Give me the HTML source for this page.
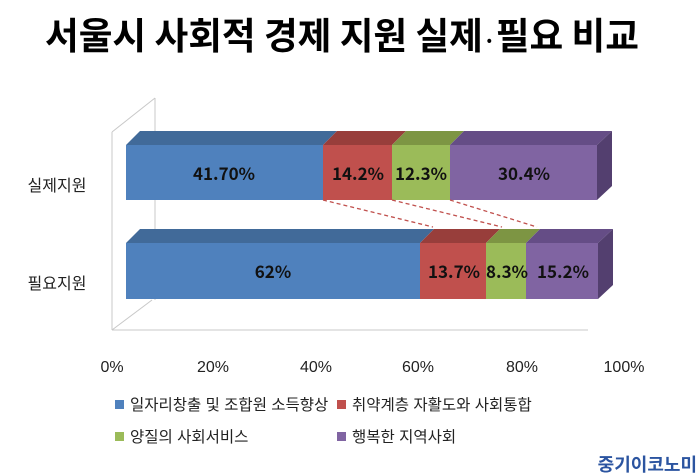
<!DOCTYPE html>
<html><head><meta charset="utf-8"><style>
html,body{margin:0;padding:0;background:#fff;}
svg{display:block;font-family:"Liberation Sans","Noto Sans CJK KR",sans-serif;}
</style></head><body>
<svg width="700" height="474" viewBox="0 0 700 474" xmlns="http://www.w3.org/2000/svg">
<rect width="700" height="474" fill="#fff"/>
<text x="342" y="49" font-size="37" font-weight="bold" text-anchor="middle" textLength="594" lengthAdjust="spacingAndGlyphs" font-family="Noto Sans CJK KR, sans-serif">서울시 사회적 경제 지원 실제<tspan font-size="22">·</tspan>필요 비교</text>
<g stroke="#c8c8c8" stroke-width="1" fill="none">
<line x1="112" y1="132" x2="112" y2="330"/>
<line x1="155" y1="98" x2="155" y2="300"/>
<line x1="112" y1="132" x2="155" y2="98"/>
<line x1="112" y1="330" x2="152" y2="300"/>
<line x1="112" y1="330" x2="588" y2="330"/>
</g>
<g>
<polygon points="126,145 140,131 337,131 323,145" fill="#416a99"/>
<polygon points="323,145 337,131 406,131 392,145" fill="#983e3b"/>
<polygon points="392,145 406,131 464,131 450,145" fill="#7d9543"/>
<polygon points="450,145 464,131 612,131 597,145" fill="#654d86"/>
<polygon points="597,145 612,131 612,186 597,200" fill="#533f6f"/>
<rect x="126" y="145" width="197" height="55" fill="#4f81bd"/>
<rect x="323" y="145" width="69" height="55" fill="#c0504d"/>
<rect x="392" y="145" width="58" height="55" fill="#9bbb59"/>
<rect x="450" y="145" width="147" height="55" fill="#8064a2"/>
</g>
<g>
<polygon points="126,243 140,229 434,229 420,243" fill="#416a99"/>
<polygon points="420,243 434,229 500,229 486,243" fill="#983e3b"/>
<polygon points="486,243 500,229 540,229 526,243" fill="#7d9543"/>
<polygon points="526,243 540,229 613,229 598,243" fill="#654d86"/>
<polygon points="598,243 613,229 613,285 598,299" fill="#533f6f"/>
<rect x="126" y="243" width="294" height="56" fill="#4f81bd"/>
<rect x="420" y="243" width="66" height="56" fill="#c0504d"/>
<rect x="486" y="243" width="40" height="56" fill="#9bbb59"/>
<rect x="526" y="243" width="72" height="56" fill="#8064a2"/>
</g>
<g stroke="#c0504d" stroke-width="1.3" stroke-dasharray="4,3">
<line x1="323" y1="200" x2="433" y2="227"/>
<line x1="392" y1="200" x2="502" y2="227"/>
<line x1="450" y1="200" x2="537" y2="227"/>
</g>
<g font-size="17" font-weight="bold" text-anchor="middle" fill="#111" font-family="Noto Sans CJK KR, sans-serif">
<text x="224" y="180">41.70%</text>
<text x="358" y="180">14.2%</text>
<text x="421" y="180">12.3%</text>
<text x="524" y="180">30.4%</text>
<text x="273" y="278">62%</text>
<text x="454" y="278">13.7%</text>
<text x="507" y="278">8.3%</text>
<text x="563" y="278">15.2%</text>
</g>
<g font-size="16" fill="#222" text-anchor="middle">
<text x="57" y="191">실제지원</text>
<text x="57" y="289">필요지원</text>
<text x="112" y="372">0%</text>
<text x="213" y="372">20%</text>
<text x="316" y="372">40%</text>
<text x="418" y="372">60%</text>
<text x="522" y="372">80%</text>
<text x="624" y="372">100%</text>
</g>
<g font-size="15.5" fill="#222">
<rect x="115" y="400" width="9" height="9" fill="#4f81bd"/>
<text x="130" y="410">일자리창출 및 조합원 소득향상</text>
<rect x="337" y="400" width="9" height="9" fill="#c0504d"/>
<text x="352" y="410">취약계층 자활도와 사회통합</text>
<rect x="115" y="432" width="9" height="9" fill="#9bbb59"/>
<text x="130" y="442">양질의 사회서비스</text>
<rect x="337" y="432" width="9" height="9" fill="#8064a2"/>
<text x="352" y="442">행복한 지역사회</text>
</g>
<text x="697" y="471" font-size="18" font-weight="bold" fill="#2b54a0" text-anchor="end" font-family="Noto Sans CJK KR, sans-serif">중기이코노미</text>
</svg>
</body></html>
